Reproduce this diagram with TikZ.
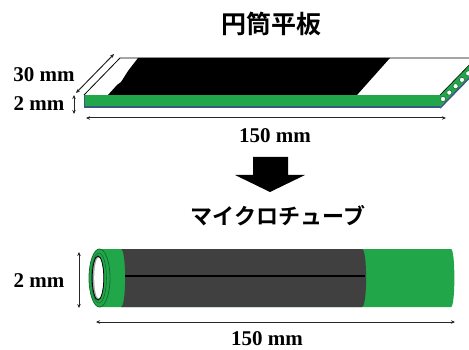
\documentclass[tikz,border=0pt]{standalone}
\usepackage{fontspec}
\setmainfont{Liberation Serif}
\newfontfamily\jpfont{Noto Sans CJK JP}[BoldFont={Noto Sans CJK JP Bold}]
\usetikzlibrary{arrows.meta}
\definecolor{tubegreen}{RGB}{34,166,74}
\definecolor{edgegreen}{RGB}{20,110,50}
\definecolor{slate}{RGB}{58,88,128}
\definecolor{coat}{RGB}{64,64,64}
\tikzset{
  dim/.style={{Stealth[length=4pt,width=3.5pt]}-{Stealth[length=4pt,width=3.5pt]}, line width=1pt, draw=black!85},
  mmlabel/.style={font=\fontsize{21}{21}\selectfont\bfseries, inner sep=0pt},
  jptitle/.style={font=\jpfont\bfseries, inner sep=0pt},
  hole/.style={fill=white, draw=edgegreen, line width=0.6pt}
}
\begin{document}
\begin{tikzpicture}[x=1pt,y=-1pt]
\useasboundingbox (0,0) rectangle (469,350);

% ---------- flat plate ----------
\node[jptitle, font=\jpfont\bfseries\fontsize{25}{25}\selectfont] (t1) at (271,24) {円筒平板};

% top face
\fill[white] (84,95) -- (120,58) -- (478,58) -- (440,95) -- cycle;
\fill[black] (138,58) -- (390,58) -- (357,95) -- (108,95) -- (117,85) -- (121,82) -- (128,71) -- cycle;
\draw[line width=0.8pt] (84,95) -- (120,58) -- (478,58);
\draw[line width=0.8pt] (84,95) -- (440,95);
% side face with tube openings
\fill[tubegreen] (440,95) -- (478,56) -- (478,68) -- (440,107) -- cycle;
\draw[slate, line width=1.6pt] (440,108) -- (478,69);
\draw[line width=0.6pt] (440,95) -- (478,56);
\foreach \k in {0,...,5}
  \draw[hole] ({443+6.3*\k},{99-6.4*\k}) circle (2.6pt);
% front face
\fill[tubegreen] (84,95) rectangle (440,107);
\draw[slate, line width=1.8pt] (84,107) -- (440,107);
\draw[slate, line width=0.8pt] (84,95) -- (84,107);

% plate dimensions
\coordinate (w1) at (76,93);
\coordinate (w2) at (114,54);
\draw[dim] (w1) -- (w2);
\node[mmlabel] (l30) at (44,75) {30 mm};
\coordinate (h1) at (74,95);
\coordinate (h2) at (74,114);
\draw[dim] (h1) -- (h2);
\node[mmlabel] (l2a) at (39,104) {2 mm};
\coordinate (a1) at (86,118);
\coordinate (a2) at (446,118);
\draw[dim] (a1) -- (a2);
\node[mmlabel] (l150a) at (275,136) {150 mm};

% ---------- process arrow ----------
\fill[black] (253,157) -- (288,157) -- (288,175) -- (305,175) -- (270,192) -- (235,175) -- (253,175) -- cycle;

% ---------- micro tube ----------
\node[jptitle, font=\jpfont\bfseries\fontsize{22}{22}\selectfont] (t2) at (278,216) {マイクロチューブ};

% green body with rounded far end
\fill[tubegreen] (99.5,249) -- (451,249) .. controls (455.5,249) and (455.5,307) .. (451,307) -- (99.5,307) -- cycle;
% coated middle part
\fill[coat] (121,249) -- (362,249) .. controls (367.5,249) and (367.5,307) .. (362,307)
  -- (121,307) .. controls (126.5,307) and (126.5,249) .. (121,249) -- cycle;
\draw[black, line width=2.6pt] (125,276) -- (365,276);
% open near end
\fill[tubegreen] (99.5,278) ellipse (10.5pt and 29pt);
\draw[edgegreen, line width=0.8pt] (99.5,278) ellipse (10.5pt and 29pt);
\draw[edgegreen, line width=0.6pt] (99,278) ellipse (7.5pt and 25pt);
\fill[black!35] (98,278) ellipse (5.8pt and 22pt);
\fill[white] (98.8,278) ellipse (4.6pt and 20.5pt);
\draw[black, line width=0.8pt] (98,278) ellipse (5.8pt and 22pt);

% tube dimensions
\coordinate (v1) at (79,252);
\coordinate (v2) at (79,308);
\draw[dim] (v1) -- (v2);
\node[mmlabel] (l2b) at (39,281) {2 mm};
\coordinate (b1) at (96,322);
\coordinate (b2) at (455,322);
\draw[dim] (b1) -- (b2);
\node[mmlabel] (l150b) at (267,338.5) {150 mm};
\end{tikzpicture}
\end{document}
